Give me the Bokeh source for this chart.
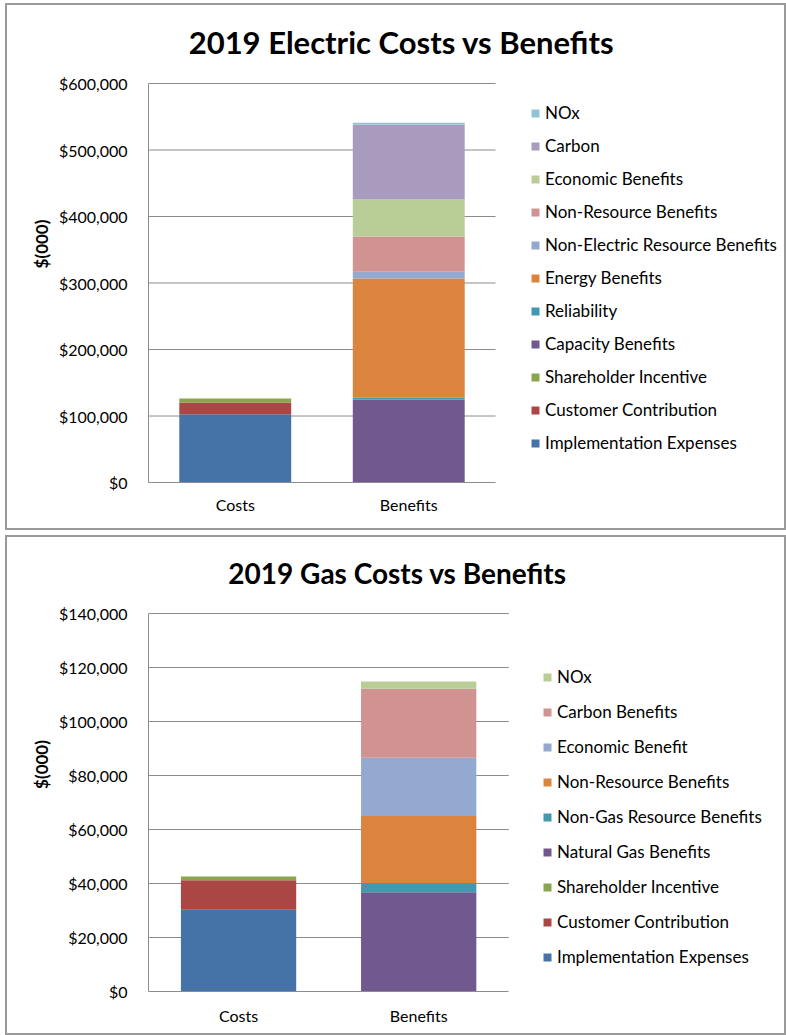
from bokeh.plotting import figure
from bokeh.models import (Legend, LegendItem, Label, FixedTicker,
                          NumeralTickFormatter, Range1d, ColumnDataSource)
from bokeh.layouts import column
from bokeh.embed import file_html
from bokeh.resources import INLINE

categories = ["Costs", "Benefits"]

# ---- Electric ----
elec_title = "2019 Electric Costs vs Benefits"
elec_series = ["Implementation Expenses", "Customer Contribution", "Shareholder Incentive",
               "Capacity Benefits", "Reliability", "Energy Benefits",
               "Non-Electric Resource Benefits", "Non-Resource Benefits",
               "Economic Benefits", "Carbon", "NOx"]
elec_costs = [102700, 17600, 6000, 0, 0, 0, 0, 0, 0, 0, 0]
elec_benefits = [0, 0, 0, 124800, 2500, 179500, 10000, 53100, 55700, 112700, 2600]
elec_colors = ["#4572A7", "#AA4643", "#89A54E", "#71588F", "#4198AF", "#DB843D",
               "#93A9CF", "#D19392", "#B9CD96", "#A99BBD", "#91C3D5"]
elec_ticks = [0, 100000, 200000, 300000, 400000, 500000, 600000]

# ---- Gas ----
gas_title = "2019 Gas Costs vs Benefits"
gas_series = ["Implementation Expenses", "Customer Contribution", "Shareholder Incentive",
              "Natural Gas Benefits", "Non-Gas Resource Benefits", "Non-Resource Benefits",
              "Economic Benefit", "Carbon Benefits", "NOx"]
gas_costs = [30250, 11000, 1350, 0, 0, 0, 0, 0, 0]
gas_benefits = [0, 0, 0, 36800, 3400, 24800, 21600, 25550, 2700]
gas_colors = ["#4572A7", "#AA4643", "#89A54E", "#71588F", "#4198AF", "#DB843D",
              "#93A9CF", "#D19392", "#B9CD96"]
gas_ticks = [0, 20000, 40000, 60000, 80000, 100000, 120000, 140000]

FONT = "Lato"
GRID = "#8c8c8c"


def make_panel(title, series, costs, benefits, colors, ticks, geo):
    n = len(categories)
    xpos = [i + 0.5 for i in range(n)]
    data = {"x": xpos}
    for name, c, b in zip(series, costs, benefits):
        data[name] = [c, b]
    src = ColumnDataSource(data)

    # frame covers the canvas above the x axis and right of the y axis;
    # the plotting area (0..max tick) occupies "plot_px" pixels of it
    frame_w = geo["w"] - 4 - geo["ml"]
    x_end = frame_w / geo["band"]
    frame_h = geo["h"] - geo["mb"]
    y_end = ticks[-1] * frame_h / geo["plot_px"]

    p = figure(x_range=Range1d(0, x_end),
               y_range=Range1d(ticks[0], y_end),
               width=geo["w"], height=geo["h"],
               min_border_left=geo["ml"], min_border_right=0,
               min_border_top=0, min_border_bottom=geo["mb"],
               output_backend="svg", toolbar_location=None, title=None)
    p.outline_line_color = None
    p.background_fill_color = "white"
    p.border_fill_color = "white"

    # horizontal gridlines limited to the category area
    grid_src = ColumnDataSource(dict(y=ticks[1:], x0=[0] * (len(ticks) - 1),
                                     x1=[n] * (len(ticks) - 1)))
    p.segment(x0="x0", x1="x1", y0="y", y1="y", source=grid_src,
              line_color=GRID, line_width=1, level="underlay")

    rs = p.vbar_stack(series, x="x", width=geo["bw"], source=src,
                      fill_color=colors, line_color=None)

    items = [LegendItem(label=s, renderers=[r]) for s, r in zip(series, rs)][::-1]
    leg = Legend(items=items, location=(geo["lx"], geo["ly"]),
                 glyph_width=10, glyph_height=10, label_height=20,
                 spacing=geo["sp"], padding=0, margin=0, label_standoff=5,
                 border_line_color=None, background_fill_alpha=0,
                 label_text_font=FONT, label_text_font_size="17px",
                 label_text_color="#000000")
    p.add_layout(leg)

    p.add_layout(Label(x=geo["tx"], y=geo["ty"], x_units="screen", y_units="screen",
                       text=title, text_align="center", text_baseline="middle",
                       text_font=FONT, text_font_style="bold",
                       text_font_size=geo["tfs"], text_color="#000000"))

    p.yaxis.ticker = FixedTicker(ticks=ticks)
    p.yaxis.bounds = (ticks[0], ticks[-1])
    p.yaxis.formatter = NumeralTickFormatter(format="$0,0")
    p.yaxis.axis_label = "$(000)"
    p.yaxis.axis_label_text_font = FONT
    p.yaxis.axis_label_text_font_style = "bold"
    p.yaxis.axis_label_text_font_size = "17px"
    p.yaxis.axis_label_text_color = "#000000"
    p.yaxis.axis_label_standoff = 4

    p.xaxis.ticker = FixedTicker(ticks=xpos)
    p.xaxis.major_label_overrides = {x: c for x, c in zip(xpos, categories)}
    p.xaxis.bounds = (0, n)
    for ax in (p.xaxis[0], p.yaxis[0]):
        ax.major_tick_line_color = None
        ax.minor_tick_line_color = None
        ax.axis_line_color = GRID
        ax.major_label_text_font = FONT
        ax.major_label_text_font_size = "16px"
        ax.major_label_text_color = "#000000"
    p.yaxis.major_label_standoff = 15
    p.xaxis.major_label_standoff = geo["xs"]
    p.xgrid.grid_line_color = None
    p.ygrid.grid_line_color = None

    p.styles = {"border": "2px solid #9a9a9a"}
    return p


p1 = make_panel(elec_title, elec_series, elec_costs, elec_benefits, elec_colors, elec_ticks,
                dict(w=781, h=527, ml=137, mb=50, plot_px=399, bw=0.645, band=173.5,
                     lx=382, ly=29, sp=12, tx=253, ty=441, tfs="31px", xs=6))
p2 = make_panel(gas_title, gas_series, gas_costs, gas_benefits, gas_colors, gas_ticks,
                dict(w=781, h=500, ml=141, mb=46, plot_px=378, bw=0.64, band=179,
                     lx=394, ly=24, sp=14, tx=249, ty=419, tfs="28px", xs=8))
p1.margin = (3, 0, 0, 5)
p2.margin = (5, 0, 0, 5)

layout = column(p1, p2, spacing=0)
open("out.html", "w").write(file_html(layout, INLINE))
